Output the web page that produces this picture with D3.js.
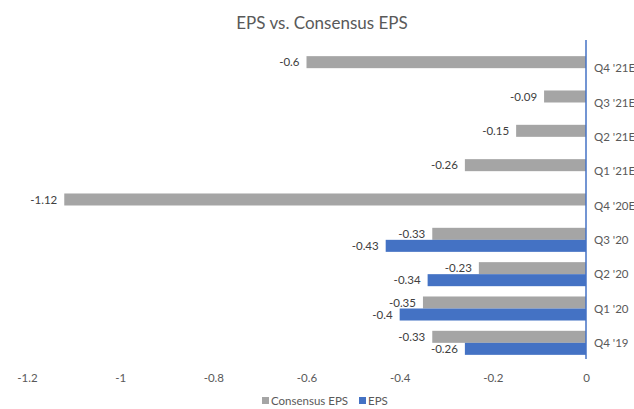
<!DOCTYPE html>
<html>
<head>
<meta charset="utf-8">
<script src="https://cdn.jsdelivr.net/npm/d3@7"></script>
<style>
  html, body { margin: 0; padding: 0; background: #fff; }
  svg { display: block; font-family: Lato, "Open Sans", sans-serif; }
</style>
</head>
<body>
<svg id="chart" width="634" height="409"></svg>
<script>
// Quarters, top to bottom
const quarters = ["Q4 '21E", "Q3 '21E", "Q2 '21E", "Q1 '21E", "Q4 '20E", "Q3 '20", "Q2 '20", "Q1 '20", "Q4 '19"];
const consensusEPS = [-0.6, -0.09, -0.15, -0.26, -1.12, -0.33, -0.23, -0.35, -0.33];
const actualEPS = [null, null, null, null, null, -0.43, -0.34, -0.4, -0.26];
const xTicks = [-1.2, -1, -0.8, -0.6, -0.4, -0.2, 0];
const seriesNames = ["Consensus EPS", "EPS"];
const seriesColors = ["#a5a5a5", "#4472c4"];

const svg = d3.select("#chart");
const x0 = 586;

const x = d3.scaleLinear().domain([-1.2, 0]).range([27, x0]);
const y = d3.scaleBand().domain(quarters).range([51, 360]).paddingInner(0.3).paddingOuter(0.15);
const inner = d3.scaleBand().domain([0, 1]).range([0, y.bandwidth()]);

// Title
svg.append("text")
  .attr("x", 322).attr("y", 29)
  .attr("text-anchor", "middle")
  .attr("font-size", 17)
  .attr("fill", "#595959")
  .text("EPS vs. Consensus EPS");

const rows = quarters.map((q, i) => ({ q, vals: [consensusEPS[i], actualEPS[i]] }));

const g = svg.append("g");
rows.forEach(r => {
  r.vals.forEach((v, s) => {
    if (v == null) return;
    const yy = y(r.q) + inner(s);
    g.append("rect")
      .attr("x", x(v)).attr("y", yy)
      .attr("width", x(0) - x(v)).attr("height", inner.bandwidth())
      .attr("fill", seriesColors[s]);
    g.append("text")
      .attr("x", x(v) - 7).attr("y", yy + inner.bandwidth() / 2)
      .attr("dy", "0.35em")
      .attr("text-anchor", "end")
      .attr("font-size", 11.5)
      .attr("fill", "#404040")
      .text(v);
  });
});

// Vertical zero axis line
svg.append("line")
  .attr("x1", x(0)).attr("x2", x(0))
  .attr("y1", 40).attr("y2", 359)
  .attr("stroke", "#4472c4").attr("stroke-width", 1.5);

// Category labels
quarters.forEach(q => {
  svg.append("text")
    .attr("x", 594).attr("y", y(q) + y.bandwidth() / 2)
    .attr("dy", "0.35em")
    .attr("font-size", 11.5)
    .attr("fill", "#595959")
    .text(q);
});

// Value axis
const xAxis = d3.axisBottom(x).tickValues(xTicks).tickSize(0).tickPadding(0).tickFormat(d => d);
const ax = svg.append("g").attr("transform", "translate(0,378)").call(xAxis);
ax.select(".domain").remove();
ax.selectAll("text")
  .attr("dy", "0.35em").attr("y", 0)
  .attr("font-size", 11.5)
  .attr("font-family", "Lato, 'Open Sans', sans-serif")
  .attr("fill", "#595959");

// Legend
const legend = svg.append("g").attr("transform", "translate(0,401)");
const legendX = [262, 359];
seriesNames.forEach((n, i) => {
  legend.append("rect")
    .attr("x", legendX[i]).attr("y", -4)
    .attr("width", 7).attr("height", 7)
    .attr("fill", seriesColors[i]);
  legend.append("text")
    .attr("x", legendX[i] + 9).attr("y", 0)
    .attr("dy", "0.35em")
    .attr("font-size", 11.5)
    .attr("fill", "#595959")
    .text(n);
});
</script>
</body>
</html>
